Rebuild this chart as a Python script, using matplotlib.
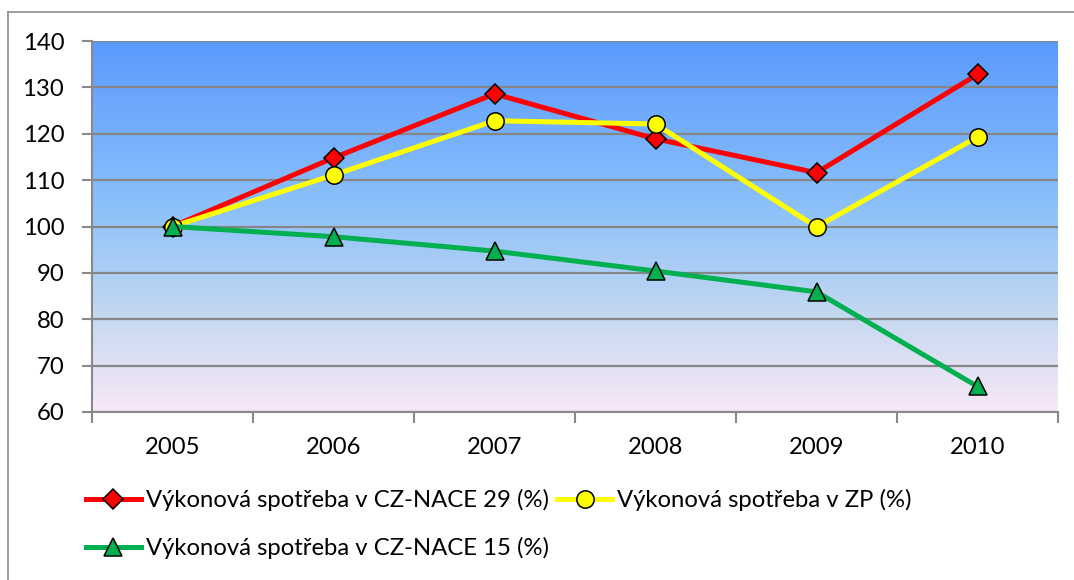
import matplotlib.pyplot as plt
import numpy as np
from matplotlib.colors import LinearSegmentedColormap
from matplotlib.lines import Line2D

plt.rcParams['font.family'] = ['Lato', 'DejaVu Sans']

years = ["2005", "2006", "2007", "2008", "2009", "2010"]
nace29 = [100.0, 114.8, 128.6, 118.9, 111.6, 132.8]
zp = [100.0, 111.1, 122.8, 122.1, 99.9, 119.3]
nace15 = [100.0, 97.8, 94.7, 90.4, 85.9, 65.5]

labels = ["Výkonová spotřeba v CZ-NACE 29 (%)",
          "Výkonová spotřeba v ZP (%)",
          "Výkonová spotřeba v CZ-NACE 15 (%)"]

fig = plt.figure(figsize=(10.74, 5.8), dpi=100)
ax = fig.add_axes([92 / 1074, 1 - 412 / 580, (1058 - 92) / 1074, (412 - 41) / 580])

# background gradient of the plot area (blue at top, pale pink at bottom)
grad = LinearSegmentedColormap.from_list(
    "bg", [(0.0, "#5A9AFE"), (0.45, "#8CC1FA"), (0.75, "#C6D9F0"), (1.0, "#FAE8F8")])
ax.imshow(np.linspace(0, 1, 256).reshape(-1, 1), cmap=grad, aspect="auto",
          extent=[-0.5, 5.5, 60, 140], origin="upper", zorder=0)

x = np.arange(len(years))
h1, = ax.plot(x, nace29, color="#FF0000", lw=3.6, marker="D", ms=10.5,
              mfc="#FF0000", mec="black", mew=1.1, zorder=3)
h2, = ax.plot(x, zp, color="#FFFF00", lw=3.6, marker="o", ms=12.5,
              mfc="#FFFF00", mec="black", mew=1.1, zorder=4)
h3, = ax.plot(x, nace15, color="#00B050", lw=3.6, marker="^", ms=12.5,
              mfc="#00B050", mec="black", mew=1.1, zorder=5)

ax.set_xlim(-0.5, 5.5)
ax.set_ylim(60, 140)
ax.set_yticks(range(60, 141, 10))
ax.set_xticks(x)
ax.set_xticklabels(years)
ax.set_xticks(np.arange(-0.5, 5.6, 1), minor=True)
ax.tick_params(axis="x", which="major", length=0, pad=18, labelsize=17.2)
ax.tick_params(axis="x", which="minor", length=8, width=1.5, color="#898989", direction="out")
ax.tick_params(axis="y", length=7, width=1.5, color="#898989", labelsize=17.2, pad=13)
ax.yaxis.grid(True, color="#868686", lw=1.6)
for gl in ax.get_ygridlines():
    gl.set_zorder(1)
for s in ("top", "right"):
    ax.spines[s].set_visible(False)
for s in ("left", "bottom"):
    ax.spines[s].set_color("#898989")
    ax.spines[s].set_linewidth(1.5)

# chart border (left and top visible in the reference)
fig.add_artist(Line2D([8 / 1074, 8 / 1074], [0, 1 - 12 / 580], color="#8C8C8C", lw=1.2))
fig.add_artist(Line2D([8 / 1074, 1], [1 - 12 / 580, 1 - 12 / 580], color="#8C8C8C", lw=1.2))

leg = fig.legend([h1, h3, h2], [labels[0], labels[2], labels[1]], ncol=2,
                 loc="upper left", bbox_to_anchor=(86 / 1074, 1 - 489 / 580),
                 frameon=False, fontsize=17.2, handlelength=2.3, handletextpad=0.2,
                 columnspacing=0.35, labelspacing=1.1, borderaxespad=0,
                 borderpad=0)

fig.savefig("out.png", dpi=100, facecolor="white")
